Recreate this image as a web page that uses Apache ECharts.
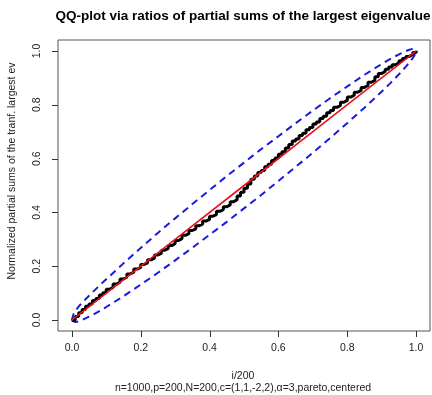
<!DOCTYPE html>
<html><head><meta charset="utf-8">
<script src="https://cdn.jsdelivr.net/npm/echarts@6/dist/echarts.min.js"></script>
<style>html,body{margin:0;padding:0;background:#fff}#c{width:432px;height:395px}</style>
</head><body><div id="c"></div>
<script>
// black step curve: x = k/100
const blackX = [0,0.01,0.02,0.03,0.04,0.05,0.06,0.07,0.08,0.09,0.10,0.11,0.12,0.13,0.14,0.15,0.16,0.17,0.18,0.19,0.20,0.21,0.22,0.23,0.24,0.25,0.26,0.27,0.28,0.29,0.30,0.31,0.32,0.33,0.34,0.35,0.36,0.37,0.38,0.39,0.40,0.41,0.42,0.43,0.44,0.45,0.46,0.47,0.48,0.49,0.50,0.51,0.52,0.53,0.54,0.55,0.56,0.57,0.58,0.59,0.60,0.61,0.62,0.63,0.64,0.65,0.66,0.67,0.68,0.69,0.70,0.71,0.72,0.73,0.74,0.75,0.76,0.77,0.78,0.79,0.80,0.81,0.82,0.83,0.84,0.85,0.86,0.87,0.88,0.89,0.90,0.91,0.92,0.93,0.94,0.95,0.96,0.97,0.98,0.99,1.00];
const blackY = [0,0.014,0.028,0.040,0.052,0.060,0.073,0.081,0.094,0.102,0.115,0.122,0.134,0.141,0.153,0.160,0.172,0.178,0.190,0.196,0.207,0.213,0.224,0.230,0.242,0.248,0.260,0.266,0.277,0.284,0.296,0.303,0.315,0.321,0.333,0.339,0.351,0.357,0.368,0.374,0.386,0.392,0.404,0.410,0.421,0.428,0.440,0.447,0.461,0.475,0.490,0.506,0.523,0.535,0.548,0.556,0.570,0.579,0.593,0.602,0.616,0.625,0.639,0.652,0.665,0.673,0.686,0.694,0.707,0.715,0.728,0.736,0.749,0.757,0.770,0.778,0.790,0.797,0.809,0.816,0.828,0.835,0.846,0.853,0.864,0.871,0.883,0.890,0.904,0.916,0.923,0.931,0.940,0.948,0.955,0.963,0.971,0.979,0.986,0.994,1.000];
// red reference line
const redX = [0, 0.25, 0.5, 0.75, 1];
const redY = [0, 0.25, 0.5, 0.75, 1];
// blue dashed bands
const bandX = [0,0.005,0.01,0.02,0.03,0.05,0.075,0.1,0.15,0.2,0.25,0.3,0.35,0.4,0.45,0.5,0.55,0.6,0.65,0.7,0.75,0.8,0.85,0.9,0.925,0.95,0.97,0.98,0.99,0.995,1];
const upperY = [0,0.022,0.034,0.051,0.065,0.091,0.122,0.152,0.211,0.268,0.324,0.378,0.431,0.483,0.535,0.585,0.635,0.683,0.731,0.778,0.824,0.868,0.911,0.951,0.970,0.987,0.999,1.004,1.007,1.006,1];
const lowerY = [0,-0.007,-0.007,-0.004,0.001,0.013,0.030,0.049,0.089,0.132,0.176,0.222,0.269,0.317,0.365,0.415,0.465,0.517,0.569,0.622,0.676,0.732,0.789,0.849,0.880,0.913,0.941,0.956,0.973,0.983,1];
const tickVals = [0, 0.2, 0.4, 0.6, 0.8, 1.0];
const tickLabels = ['0.0','0.2','0.4','0.6','0.8','1.0'];

const pairs = (xs, ys) => xs.map((x, i) => [x, ys[i]]);
const F = 'Liberation Sans, Arial, sans-serif';
const chart = echarts.init(document.getElementById('c'), null, {renderer: 'canvas'});
const labelFmt = v => tickLabels[Math.round(v * 5)] || '';
const hidden = {axisLine: {show: false, onZero: false}, axisTick: {show: false}, axisLabel: {show: false}, splitLine: {show: false}};
chart.setOption({
  animation: false,
  grid: [
    {left: 58, top: 40, width: 372, height: 291, show: true, borderColor: '#555', borderWidth: 1, backgroundColor: 'transparent'},
    {left: 72, top: 51, width: 344, height: 269, show: false}
  ],
  xAxis: [
    Object.assign({type: 'value', gridIndex: 0, min: -0.04, max: 1.04}, hidden),
    {type: 'value', gridIndex: 1, min: 0, max: 1, interval: 0.2, offset: 11,
      axisLine: {show: false, onZero: false}, splitLine: {show: false}, axisTick: {show: false},
      axisLabel: {formatter: labelFmt, fontFamily: F, fontSize: 10.5, color: '#222', margin: 12}}
  ],
  yAxis: [
    Object.assign({type: 'value', gridIndex: 0, min: -0.04, max: 1.04}, hidden),
    {type: 'value', gridIndex: 1, min: 0, max: 1, interval: 0.2, offset: 14,
      axisLine: {show: false, onZero: false}, splitLine: {show: false}, axisTick: {show: false},
      axisLabel: {formatter: labelFmt, rotate: 90, fontFamily: F, fontSize: 10.5, color: '#222', margin: 15}}
  ],
  series: [
    {type: 'line', xAxisIndex: 0, yAxisIndex: 0, data: pairs(bandX, upperY), symbol: 'none', lineStyle: {color: '#1a1adf', width: 2, type: [7, 5]}, z: 2},
    {type: 'line', xAxisIndex: 0, yAxisIndex: 0, data: pairs(bandX, lowerY), symbol: 'none', lineStyle: {color: '#1a1adf', width: 2, type: [7, 5]}, z: 2},
    {type: 'line', xAxisIndex: 0, yAxisIndex: 0, data: pairs(blackX, blackY), step: 'end', symbol: 'none', lineStyle: {color: '#000', width: 3}, z: 3},
    {type: 'line', xAxisIndex: 0, yAxisIndex: 0, data: pairs(redX, redY), symbol: 'none', lineStyle: {color: '#e8141b', width: 1.6}, z: 4}
  ],
  graphic: [
    {type: 'text', x: 243, y: 16, style: {text: 'QQ-plot via ratios of partial sums of the largest eigenvalue', font: 'bold 13.5px ' + F, fill: '#000', textAlign: 'center', textVerticalAlign: 'middle'}},
    {type: 'text', x: 243, y: 376, style: {text: 'i/200', font: '10.5px ' + F, fill: '#222', textAlign: 'center', textVerticalAlign: 'middle'}},
    {type: 'text', x: 243, y: 388, style: {text: 'n=1000,p=200,N=200,c=(1,1,-2,2),α=3,pareto,centered', font: '10.5px ' + F, fill: '#222', textAlign: 'center', textVerticalAlign: 'middle'}},
    {type: 'text', x: 12, y: 171, rotation: Math.PI / 2, style: {text: 'Normalized partial sums of the tranf. largest ev', font: '10.5px ' + F, fill: '#222', textAlign: 'center', textVerticalAlign: 'middle'}}
  ]
});
// tick marks placed through the axis scale (R style, outside the box)
const edge = chart.convertToPixel({gridIndex: 0}, [-0.04, -0.04]);
const tickEls = [];
tickVals.forEach(v => {
  const p = chart.convertToPixel({gridIndex: 0}, [v, v]);
  const px = Math.round(p[0]) + 0.5, py = Math.round(p[1]) + 0.5;
  const bx = Math.round(edge[0]), by = Math.round(edge[1]);
  tickEls.push({type: 'line', shape: {x1: px, y1: by, x2: px, y2: by + 6}, style: {stroke: '#333', lineWidth: 1}, z: 10});
  tickEls.push({type: 'line', shape: {x1: bx - 6, y1: py, x2: bx, y2: py}, style: {stroke: '#333', lineWidth: 1}, z: 10});
});
chart.setOption({graphic: tickEls.map((t, i) => Object.assign({id: 'tick' + i}, t))});
</script></body></html>
